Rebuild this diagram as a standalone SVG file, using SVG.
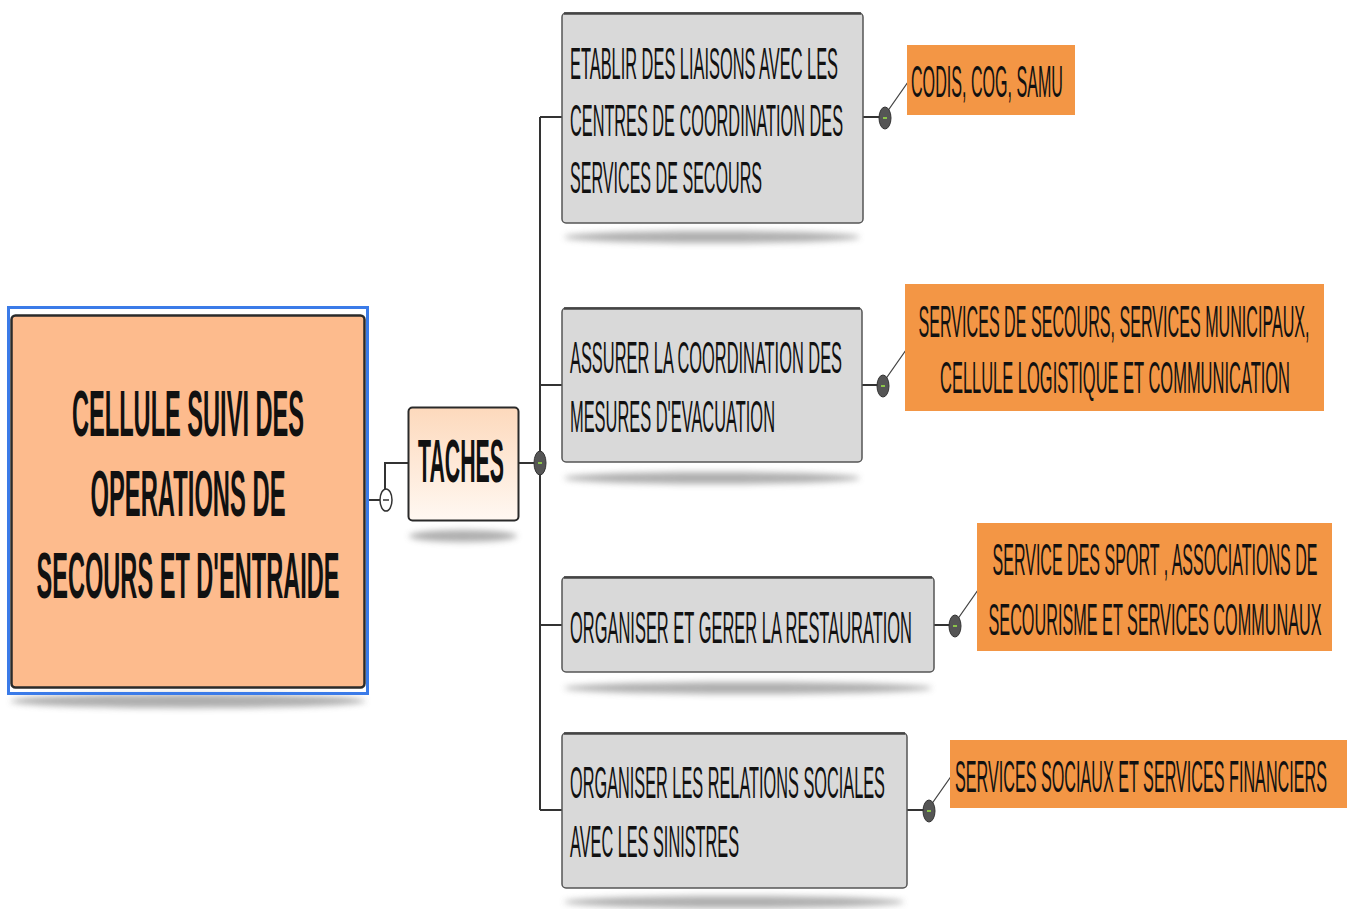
<svg xmlns="http://www.w3.org/2000/svg" width="1355" height="909" viewBox="0 0 1355 909">
<defs>
<filter id="blur" x="-20%" y="-100%" width="140%" height="300%"><feGaussianBlur stdDeviation="3"/></filter>
<linearGradient id="tg" x1="0" y1="0" x2="0" y2="1"><stop offset="0" stop-color="#FDD9BC"/><stop offset="1" stop-color="#FFF8F2"/></linearGradient>
<style>
.sh{fill:#9a9a9a;filter:url(#blur);opacity:0.8}
.task{fill:#D9D9D9;stroke:#555;stroke-width:1.5}
.res{fill:#F39645}
.t{font-family:"Liberation Sans",Arial,sans-serif;fill:#111}
.tt{font-size:16px}
.rt{font-size:22px;font-weight:bold}
.ln{stroke:#333;stroke-width:2;fill:none}
.dg{stroke:#444;stroke-width:1.3;fill:none}
.knob{fill:#555;stroke:#333;stroke-width:1}
.dash{stroke:#8BC34A;stroke-width:2}
</style>
</defs>
<g id="connectors">
<path class="ln" d="M368 500 H380"/>
<path class="ln" d="M385 492 V463 H408"/>
<path class="ln" d="M518 463 H534"/>
<path class="ln" d="M540 117 V810 M540 117 H562 M540 385 H562 M540 625 H562 M540 810 H562"/>
<path class="ln" d="M863 117 H880 M862 385 H878 M934 625 H950 M907 810 H924"/>
<path class="dg" d="M887 112 L908 82 M885 380 L906 350 M957 620 L978 590 M931 805 L952 775"/>
<ellipse cx="386" cy="500" rx="6" ry="11" fill="#fff" stroke="#333" stroke-width="1.5"/>
<path d="M383 500 H389" stroke="#333" stroke-width="1.5"/>
<ellipse class="knob" cx="540" cy="463" rx="6" ry="12"/><path class="dash" d="M538 463 H542"/>
<ellipse class="knob" cx="885" cy="118" rx="6" ry="11"/><path class="dash" d="M883 118 H887"/>
<ellipse class="knob" cx="883" cy="386" rx="6" ry="11"/><path class="dash" d="M881 386 H885"/>
<ellipse class="knob" cx="955" cy="626" rx="6" ry="11"/><path class="dash" d="M953 626 H957"/>
<ellipse class="knob" cx="929" cy="811" rx="6" ry="11"/><path class="dash" d="M927 811 H931"/>
</g>
<g id="root">
<ellipse class="sh" cx="188" cy="701" rx="178" ry="7"/>
<rect x="8.5" y="307.5" width="359" height="386" fill="none" stroke="#3B7BE8" stroke-width="3"/>
<rect x="11.5" y="315.5" width="353" height="372" rx="4" fill="#FDBB8D" stroke="#2a2a2a" stroke-width="2.5"/>
<g class="t rt" text-anchor="middle">
<text transform="translate(188,436) scale(1,2.95)" textLength="232" lengthAdjust="spacingAndGlyphs">CELLULE SUIVI DES</text>
<text transform="translate(188,516) scale(1,2.95)" textLength="195" lengthAdjust="spacingAndGlyphs">OPERATIONS DE</text>
<text transform="translate(188,598) scale(1,2.95)" textLength="303" lengthAdjust="spacingAndGlyphs">SECOURS ET D'ENTRAIDE</text>
</g>
</g>
<g id="taches">
<ellipse class="sh" cx="463" cy="536" rx="54" ry="6"/>
<rect x="408.5" y="407.5" width="110" height="113" rx="4" fill="url(#tg)" stroke="#2a2a2a" stroke-width="2"/>
<text class="t rt" transform="translate(461,482) scale(1,2.8)" text-anchor="middle" textLength="86" lengthAdjust="spacingAndGlyphs">TACHES</text>
</g>
<g id="task1">
<ellipse class="sh" cx="712" cy="237" rx="148" ry="6"/>
<rect class="task" x="562" y="13" width="301" height="210" rx="4"/>
<path d="M564 13.5 H861" stroke="#444" stroke-width="2.5"/>
<text class="t tt" transform="translate(570,79) scale(1,2.75)" textLength="268" lengthAdjust="spacingAndGlyphs">ETABLIR DES LIAISONS AVEC LES</text>
<text class="t tt" transform="translate(570,136) scale(1,2.75)" textLength="273" lengthAdjust="spacingAndGlyphs">CENTRES DE COORDINATION DES</text>
<text class="t tt" transform="translate(570,193) scale(1,2.75)" textLength="192" lengthAdjust="spacingAndGlyphs">SERVICES DE SECOURS</text>
</g>
<g id="res1">
<rect class="res" x="907" y="45" width="168" height="70"/>
<text class="t tt" transform="translate(911,97) scale(1,2.75)" textLength="152" lengthAdjust="spacingAndGlyphs">CODIS, COG, SAMU</text>
</g>
<g id="task2">
<ellipse class="sh" cx="712" cy="478" rx="148" ry="6"/>
<rect class="task" x="562" y="308" width="300" height="154" rx="4"/>
<path d="M564 308.5 H860" stroke="#444" stroke-width="2.5"/>
<text class="t tt" transform="translate(570,373) scale(1,2.75)" textLength="272" lengthAdjust="spacingAndGlyphs">ASSURER LA COORDINATION DES</text>
<text class="t tt" transform="translate(570,432) scale(1,2.75)" textLength="205" lengthAdjust="spacingAndGlyphs">MESURES D'EVACUATION</text>
</g>
<g id="res2">
<rect class="res" x="905" y="284" width="419" height="127"/>
<text class="t tt" transform="translate(1114,337) scale(1,2.75)" text-anchor="middle" textLength="391" lengthAdjust="spacingAndGlyphs">SERVICES DE SECOURS, SERVICES MUNICIPAUX,</text>
<text class="t tt" transform="translate(1115,393) scale(1,2.75)" text-anchor="middle" textLength="350" lengthAdjust="spacingAndGlyphs">CELLULE LOGISTIQUE ET COMMUNICATION</text>
</g>
<g id="task3">
<ellipse class="sh" cx="748" cy="688" rx="184" ry="6"/>
<rect class="task" x="562" y="577" width="372" height="95" rx="4"/>
<path d="M564 577.5 H932" stroke="#444" stroke-width="2.5"/>
<text class="t tt" transform="translate(570,643) scale(1,2.75)" textLength="342" lengthAdjust="spacingAndGlyphs">ORGANISER ET GERER LA RESTAURATION</text>
</g>
<g id="res3">
<rect class="res" x="977" y="523" width="355" height="128"/>
<text class="t tt" transform="translate(1155,575) scale(1,2.75)" text-anchor="middle" textLength="325" lengthAdjust="spacingAndGlyphs">SERVICE DES SPORT , ASSOCIATIONS DE</text>
<text class="t tt" transform="translate(1155,635) scale(1,2.75)" text-anchor="middle" textLength="333" lengthAdjust="spacingAndGlyphs">SECOURISME ET SERVICES COMMUNAUX</text>
</g>
<g id="task4">
<ellipse class="sh" cx="734" cy="902" rx="170" ry="6"/>
<rect class="task" x="562" y="733" width="345" height="155" rx="4"/>
<path d="M564 733.5 H905" stroke="#444" stroke-width="2.5"/>
<text class="t tt" transform="translate(570,798) scale(1,2.75)" textLength="315" lengthAdjust="spacingAndGlyphs">ORGANISER LES RELATIONS SOCIALES</text>
<text class="t tt" transform="translate(570,857) scale(1,2.75)" textLength="169" lengthAdjust="spacingAndGlyphs">AVEC LES SINISTRES</text>
</g>
<g id="res4">
<rect class="res" x="950" y="740" width="397" height="68"/>
<text class="t tt" transform="translate(955,792) scale(1,2.75)" textLength="372" lengthAdjust="spacingAndGlyphs">SERVICES SOCIAUX ET SERVICES FINANCIERS</text>
</g>
</svg>
